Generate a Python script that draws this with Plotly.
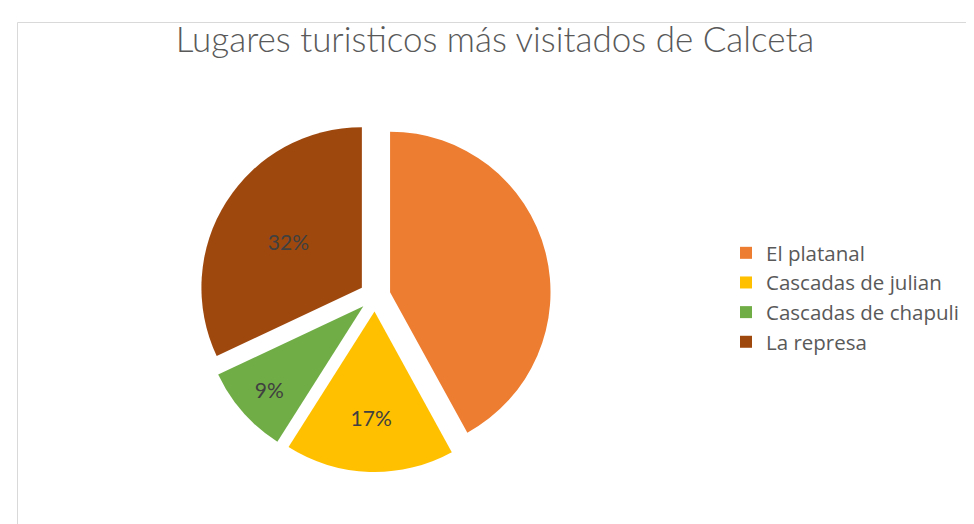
import plotly.graph_objects as go

labels = ["El platanal", "Cascadas de julian", "Cascadas de chapuli", "La represa"]
values = [42, 17, 9, 32]
colors = ["#ED7D31", "#FFC000", "#70AD47", "#9E480E"]
show_label = [False, True, True, True]

W, H = 974, 524
templates = ["%{percent:.0%}" if s else "" for s in show_label]

fig = go.Figure(go.Pie(
    labels=labels,
    values=values,
    sort=False,
    direction="clockwise",
    rotation=0,
    pull=[0.097] * len(values),
    marker=dict(colors=colors, line=dict(width=0)),
    texttemplate=templates,
    textposition="inside",
    insidetextorientation="horizontal",
    textfont=dict(family="Lato", size=21, color="#404040"),
    domain=dict(x=[191 / W, 543 / W], y=[1 - 464 / H, 1 - 112 / H]),
    hoverinfo="label+percent",
))

fig.update_layout(
    width=W, height=H,
    margin=dict(l=0, r=0, t=0, b=0),
    paper_bgcolor="white",
    uniformtext=dict(minsize=21, mode="show"),
    title=dict(text="Lugares turisticos más visitados de Calceta",
               x=0.5, xanchor="center", y=1 - 32 / H, yanchor="middle",
               font=dict(family="Lato", size=35, color="#595959", weight=300)),
    showlegend=True,
    legend=dict(x=718 / W, xanchor="left", y=1 - 225 / H, yanchor="top",
                font=dict(family="Open Sans", size=20.5, color="#595959"),
                bgcolor="rgba(0,0,0,0)"),
    shapes=[dict(type="rect", xref="paper", yref="paper",
                 x0=9.5 / W, x1=1.2, y0=-0.2, y1=1 - 14.5 / H,
                 line=dict(color="#D9D9D9", width=1), fillcolor="rgba(0,0,0,0)",
                 layer="below")],
)

fig.write_html("out.html")
